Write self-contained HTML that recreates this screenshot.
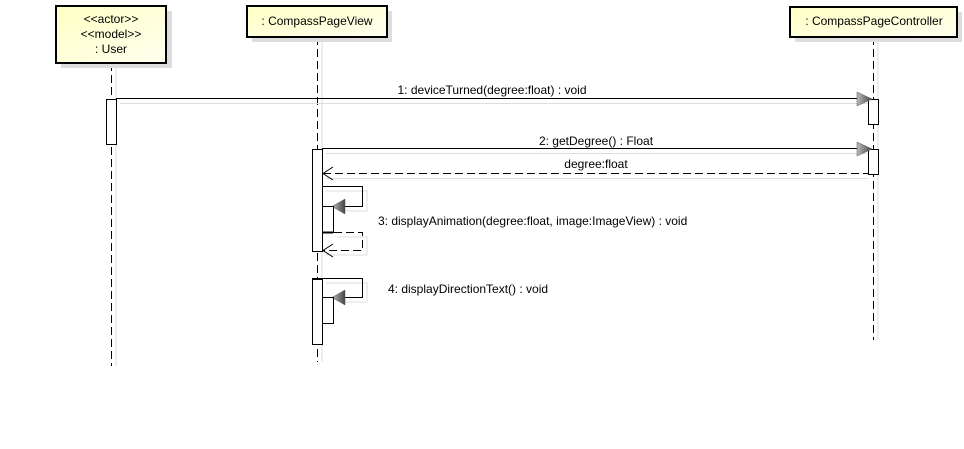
<!DOCTYPE html>
<html><head><meta charset="utf-8"><style>
body{margin:0;background:#fff}
text{font-family:"Liberation Sans",sans-serif;font-size:12px;fill:#000}
</style></head><body>
<svg width="964" height="444" xmlns="http://www.w3.org/2000/svg">
<defs>
<linearGradient id="g" x1="0" y1="0" x2="1" y2="1"><stop offset="0" stop-color="#ffffc4"/><stop offset="1" stop-color="#fffff0"/></linearGradient>
<linearGradient id="ah" x1="0" y1="0" x2="1" y2="0"><stop offset="0" stop-color="#bbb"/><stop offset="1" stop-color="#444"/></linearGradient>
</defs>
<g stroke="#ddd" stroke-width="1"><line x1="116" y1="63" x2="116" y2="366"/><line x1="322" y1="37" x2="322" y2="362"/><line x1="878" y1="37" x2="878" y2="340"/></g>
<g stroke="#000" stroke-dasharray="8,4"><line x1="111.5" y1="63" x2="111.5" y2="366"/><line x1="317.5" y1="37" x2="317.5" y2="362"/><line x1="873.5" y1="37" x2="873.5" y2="340"/></g>
<rect x="61" y="11" width="111" height="57" fill="#ddd"/>
<rect x="56" y="6" width="110" height="57" fill="url(#g)" stroke="#000" stroke-width="2"/>
<text x="111" y="23" text-anchor="middle">&lt;&lt;actor&gt;&gt;</text>
<text x="111" y="38" text-anchor="middle">&lt;&lt;model&gt;&gt;</text>
<text x="111" y="53" text-anchor="middle">: User</text>
<rect x="252" y="11" width="140" height="31" fill="#ddd"/>
<rect x="247" y="6" width="140" height="31" fill="url(#g)" stroke="#000" stroke-width="2"/>
<text x="317" y="25" text-anchor="middle">: CompassPageView</text>
<rect x="795" y="12" width="167" height="30" fill="#ddd"/>
<rect x="790" y="7" width="167" height="30" fill="url(#g)" stroke="#000" stroke-width="2"/>
<text x="874" y="25" text-anchor="middle">: CompassPageController</text>
<g fill="#fff" stroke="#000">
<rect x="106.5" y="99.5" width="10" height="45"/>
<rect x="868.5" y="99.5" width="10" height="25"/>
<rect x="868.5" y="149.5" width="10" height="25"/>
<rect x="312.5" y="149.5" width="10" height="102"/>
<rect x="312.5" y="279.5" width="10" height="65"/>
</g>
<line x1="120" y1="103.5" x2="868" y2="103.5" stroke="#ddd"/>
<line x1="116" y1="98.5" x2="858" y2="98.5" stroke="#000"/>
<polygon points="857,92 872,99 857,106" fill="url(#ah)" stroke="#555" stroke-width=".5"/>
<text x="492" y="94" text-anchor="middle">1: deviceTurned(degree:float) : void</text>
<line x1="326" y1="153.5" x2="868" y2="153.5" stroke="#ddd"/>
<line x1="322" y1="148.5" x2="858" y2="148.5" stroke="#000"/>
<polygon points="857,142 872,149 857,156" fill="url(#ah)" stroke="#555" stroke-width=".5"/>
<text x="596" y="145" text-anchor="middle">2: getDegree() : Float</text>
<line x1="326" y1="178.5" x2="868" y2="178.5" stroke="#ddd"/>
<line x1="323" y1="173.5" x2="868" y2="173.5" stroke="#000" stroke-dasharray="8,4"/>
<polyline points="333,167 323,173.5 333,180" fill="none" stroke="#000"/>
<text x="596" y="168" text-anchor="middle">degree:float</text>
<polyline points="326,191 367,191 367,211 340,211" fill="none" stroke="#ddd"/>
<polyline points="322,186.5 362.5,186.5 362.5,206.5 345,206.5" fill="none" stroke="#000"/>
<polygon points="345,199 332,206.5 345,214" fill="url(#ah)" stroke="#555" stroke-width=".5"/>
<rect x="322.5" y="206.5" width="11" height="26" fill="#fff" stroke="#000"/>
<line x1="322" y1="232.5" x2="333" y2="232.5" stroke="#000" stroke-width="2"/>
<polyline points="337,237 367,237 367,255 326,255" fill="none" stroke="#ddd"/>
<polyline points="334,232.5 362.5,232.5 362.5,250.5 323,250.5" fill="none" stroke="#000" stroke-dasharray="8,4"/>
<polyline points="333,244 323,250.5 333,257" fill="none" stroke="#000"/>
<text x="378" y="225">3: displayAnimation(degree:float, image:ImageView) : void</text>
<line x1="312" y1="279" x2="322" y2="279" stroke="#000" stroke-width="2"/>
<polyline points="326,283 367,283 367,302 340,302" fill="none" stroke="#ddd"/>
<polyline points="322,278.5 362.5,278.5 362.5,297.5 345,297.5" fill="none" stroke="#000"/>
<polygon points="345,290 332,297.5 345,305" fill="url(#ah)" stroke="#555" stroke-width=".5"/>
<rect x="322.5" y="297.5" width="11" height="26" fill="#fff" stroke="#000"/>
<text x="388" y="293">4: displayDirectionText() : void</text>
</svg>
</body></html>
